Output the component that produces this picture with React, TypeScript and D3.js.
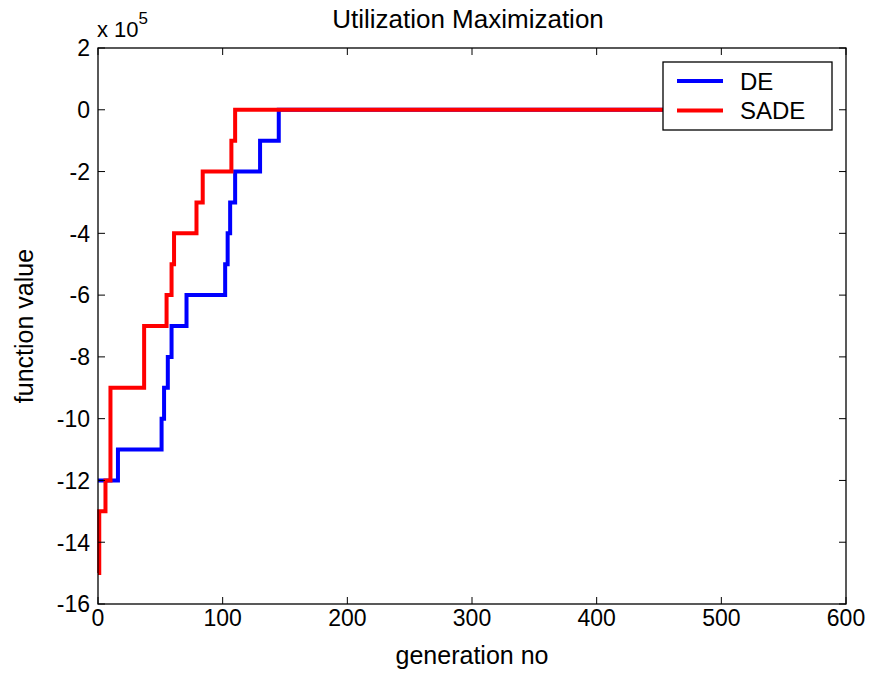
import * as d3 from "d3"
import React, { useEffect, useRef } from "react"

// step data (generation, value in units of 1e5)
const deGen = [0, 16, 51, 53, 56, 59, 71, 102, 104, 106, 110, 130, 145, 500]
const deVal = [-12, -11, -10, -9, -8, -7, -6, -5, -4, -3, -2, -1, 0, 0]
const sadeGen = [0, 1, 6, 10, 37, 55, 59, 60, 61, 79, 84, 107, 110, 500]
const sadeVal = [-15, -13, -12, -9, -7, -6, -5, -5, -4, -3, -2, -1, 0, 0]

const xTicks = [0, 100, 200, 300, 400, 500, 600]
const yTicks = [-16, -14, -12, -10, -8, -6, -4, -2, 0, 2]
const seriesNames = ["DE", "SADE"]
const seriesColors = ["#0000ff", "#ff0000"]

const W = 869
const H = 677

const App = () => {
    const refSvg = useRef<SVGSVGElement>(null)

    useEffect(() => {
        const svg = d3.select(refSvg.current)
        svg.selectAll("*").remove()
        const m = { left: 98, right: 23, top: 48, bottom: 73 }
        const w = W - m.left - m.right
        const h = H - m.top - m.bottom
        const font = "Arial, 'Liberation Sans', sans-serif"

        const x = d3.scaleLinear().domain([0, 600]).range([0, w])
        const y = d3.scaleLinear().domain([-16, 2]).range([h, 0])

        const g = svg.append("g").attr("transform", `translate(${m.left},${m.top})`)

        // lines, SADE on top
        const line = d3.line<[number, number]>()
            .x(d => x(d[0]))
            .y(d => y(d[1]))
            .curve(d3.curveStepAfter)
        const series = [
            deGen.map((v, i) => [v, deVal[i]] as [number, number]),
            sadeGen.map((v, i) => [v, sadeVal[i]] as [number, number]),
        ]
        series.forEach((s, i) => {
            g.append("path")
                .attr("d", line(s))
                .attr("fill", "none")
                .attr("stroke", seriesColors[i])
                .attr("stroke-width", 4)
        })

        // frame
        g.append("rect")
            .attr("width", w).attr("height", h)
            .attr("fill", "none").attr("stroke", "#000").attr("stroke-width", 1.3)

        // inward ticks on all four sides
        const tl = 7
        xTicks.forEach(t => {
            g.append("line").attr("x1", x(t)).attr("x2", x(t)).attr("y1", h).attr("y2", h - tl).attr("stroke", "#000")
            g.append("line").attr("x1", x(t)).attr("x2", x(t)).attr("y1", 0).attr("y2", tl).attr("stroke", "#000")
            g.append("text")
                .attr("x", x(t)).attr("y", h + 22)
                .attr("text-anchor", "middle")
                .attr("font-family", font).attr("font-size", 23)
                .text(t)
        })
        yTicks.forEach(t => {
            g.append("line").attr("x1", 0).attr("x2", tl).attr("y1", y(t)).attr("y2", y(t)).attr("stroke", "#000")
            g.append("line").attr("x1", w).attr("x2", w - tl).attr("y1", y(t)).attr("y2", y(t)).attr("stroke", "#000")
            g.append("text")
                .attr("x", -8).attr("y", y(t))
                .attr("dy", "0.36em")
                .attr("text-anchor", "end")
                .attr("font-family", font).attr("font-size", 23)
                .text(t)
        })

        // exponent label
        const ex = svg.append("text")
            .attr("x", 97).attr("y", 37)
            .attr("font-family", font).attr("font-size", 22)
        ex.append("tspan").text("x 10")
        ex.append("tspan").attr("dy", -13).attr("font-size", 17).text("5")

        // title and axis labels
        svg.append("text")
            .attr("x", m.left + w / 2 - 4).attr("y", 28)
            .attr("text-anchor", "middle")
            .attr("font-family", font).attr("font-size", 26)
            .text("Utilization Maximization")
        svg.append("text")
            .attr("x", m.left + w / 2).attr("y", 664)
            .attr("text-anchor", "middle")
            .attr("font-family", font).attr("font-size", 25)
            .text("generation no")
        svg.append("text")
            .attr("transform", `translate(33,${m.top + h / 2}) rotate(-90)`)
            .attr("text-anchor", "middle")
            .attr("font-family", font).attr("font-size", 25)
            .text("function value")

        // legend
        const lg = svg.append("g").attr("transform", "translate(663,62)")
        lg.append("rect")
            .attr("width", 169).attr("height", 68)
            .attr("fill", "#fff").attr("stroke", "#000").attr("stroke-width", 1.3)
        seriesNames.forEach((n, i) => {
            const yy = 19 + i * 29.5
            lg.append("line")
                .attr("x1", 14).attr("x2", 60).attr("y1", yy).attr("y2", yy)
                .attr("stroke", seriesColors[i]).attr("stroke-width", 4)
            lg.append("text")
                .attr("x", 77).attr("y", yy).attr("dy", "0.36em")
                .attr("font-family", font).attr("font-size", 24)
                .text(n)
        })
    }, [])

    return (
        <svg ref={refSvg} width={W} height={H}
            style={{ position: "absolute", left: 0, top: 0, background: "#fff" }}></svg>
    )
}

export default App
